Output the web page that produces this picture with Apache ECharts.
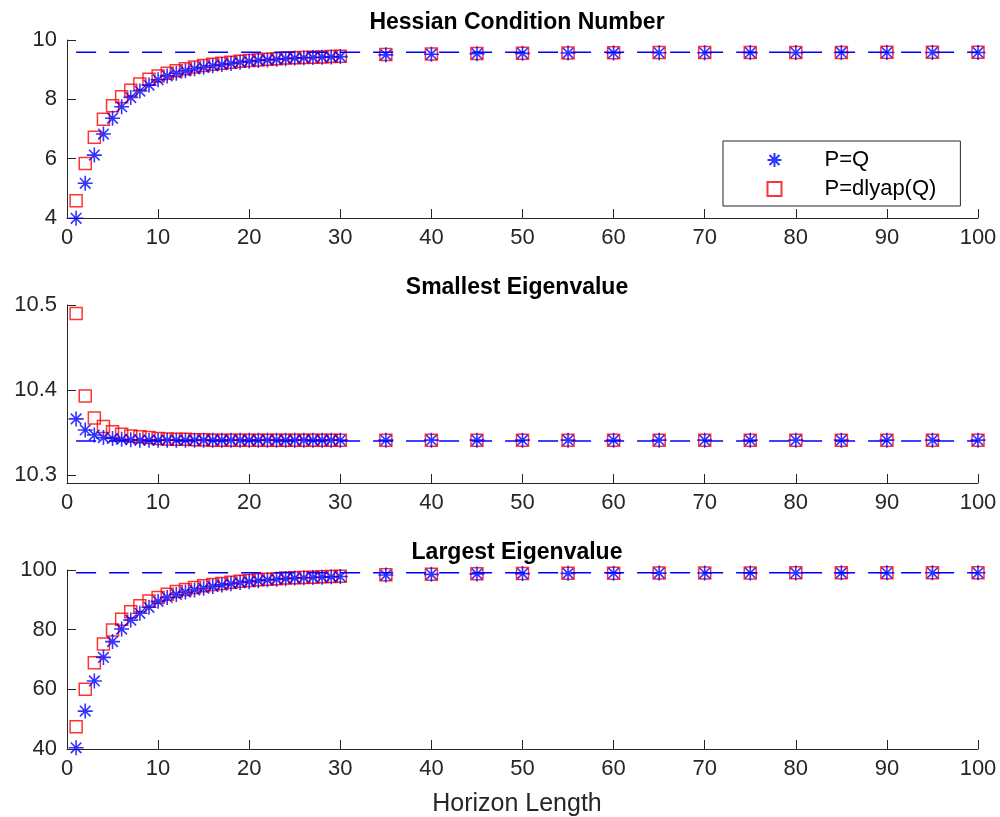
<!DOCTYPE html>
<html>
<head>
<meta charset="utf-8">
<script src="https://cdn.jsdelivr.net/npm/echarts@6/dist/echarts.min.js"></script>
<style>html,body{margin:0;padding:0;background:#fff}#c{width:1000px;height:817px}</style>
</head>
<body>
<div id="c"></div>
<script>
// Horizon lengths
const xVals = [1,2,3,4,5,6,7,8,9,10,11,12,13,14,15,16,17,18,19,20,21,22,23,24,25,26,27,28,29,30,35,40,45,50,55,60,65,70,75,80,85,90,95,100];
const xTicks = [0,10,20,30,40,50,60,70,80,90,100];

// Hessian condition number
const condQ = [3.99,5.17,6.12,6.83,7.36,7.75,8.06,8.28,8.48,8.66,8.79,8.88,8.96,9.03,9.08,9.13,9.17,9.21,9.25,9.28,9.31,9.33,9.35,9.37,9.39,9.40,9.41,9.42,9.43,9.44,9.50,9.52,9.54,9.55,9.56,9.565,9.57,9.57,9.575,9.575,9.58,9.58,9.58,9.58];
const condDly = [4.58,5.84,6.72,7.33,7.78,8.09,8.31,8.52,8.68,8.79,8.88,8.96,9.03,9.09,9.14,9.18,9.22,9.25,9.28,9.31,9.33,9.35,9.37,9.39,9.40,9.41,9.42,9.43,9.44,9.45,9.51,9.53,9.545,9.555,9.565,9.57,9.575,9.575,9.58,9.58,9.58,9.585,9.585,9.585];
const condLimit = 9.59;
const condTicks = [4,6,8,10];

// Smallest eigenvalue
const minQ = [10.366,10.353,10.347,10.344,10.343,10.342,10.3415,10.341,10.341,10.341,10.341,10.341,10.341,10.341,10.341,10.341,10.341,10.341,10.341,10.341,10.341,10.341,10.341,10.341,10.341,10.341,10.341,10.341,10.341,10.341,10.341,10.341,10.341,10.341,10.341,10.341,10.341,10.341,10.341,10.341,10.341,10.341,10.341,10.341];
const minDly = [10.490,10.393,10.367,10.357,10.351,10.348,10.346,10.345,10.344,10.343,10.3425,10.342,10.342,10.3415,10.3415,10.341,10.341,10.341,10.341,10.341,10.341,10.341,10.341,10.341,10.341,10.341,10.341,10.341,10.341,10.341,10.341,10.341,10.341,10.341,10.341,10.341,10.341,10.341,10.341,10.341,10.341,10.341,10.341,10.341];
const minLimit = 10.340;
const minTicks = [10.3,10.4,10.5];

// Largest eigenvalue
const maxQ = [40.4,52.7,62.8,70.7,76.0,80.2,83.2,85.5,87.5,89.5,90.8,91.8,92.6,93.3,93.9,94.5,95.0,95.4,95.8,96.1,96.4,96.7,96.9,97.1,97.3,97.4,97.5,97.6,97.7,97.8,98.3,98.55,98.7,98.8,98.87,98.92,98.96,98.99,99.01,99.03,99.04,99.05,99.06,99.06];
const maxDly = [47.5,60.0,68.9,75.2,79.9,83.5,86.0,88.0,89.6,90.8,91.9,92.8,93.5,94.1,94.7,95.1,95.5,95.9,96.2,96.5,96.7,96.9,97.1,97.3,97.4,97.5,97.6,97.7,97.8,97.9,98.4,98.6,98.75,98.85,98.9,98.95,98.98,99.0,99.02,99.04,99.05,99.06,99.07,99.07];
const maxLimit = 99.1;
const maxTicks = [40,60,80,100];

const titles = ['Hessian Condition Number','Smallest Eigenvalue','Largest Eigenvalue'];
const xLabel = 'Horizon Length';
const legendNames = ['P=Q','P=dlyap(Q)'];

const FONT = "'Liberation Sans', Arial, Helvetica, sans-serif";
const AX = '#262626';
const STAR = 'path://M0,-10L0,10M-10,0L10,0M-7.07,-7.07L7.07,7.07M-7.07,7.07L7.07,-7.07';

const grids = [
  {left:67, width:911, top:40, height:178},
  {left:67, width:911, top:305, height:178},
  {left:67, width:911, top:570, height:179}
];
const yRanges = [
  {min:4, max:10, ticks:condTicks, fmt:v=>String(v)},
  {min:10.2906, max:10.5, ticks:minTicks, fmt:v=>v.toFixed(1)},
  {min:40, max:100, ticks:maxTicks, fmt:v=>String(v)}
];
const sets = [[condQ,condDly,condLimit],[minQ,minDly,minLimit],[maxQ,maxDly,maxLimit]];

const xAxes = grids.map((g,i)=>({
  type:'value', gridIndex:i, min:0, max:100, interval:10,
  axisLine:{show:true, onZero:false, lineStyle:{color:AX,width:1}},
  axisTick:{show:true, inside:true, length:9, lineStyle:{color:AX}},
  axisLabel:{show:true, color:AX, fontSize:22, fontFamily:FONT, margin:9},
  splitLine:{show:false}
}));
const yAxes = yRanges.map((r,i)=>({
  type:'value', gridIndex:i, min:r.min, max:r.max,
  axisLine:{show:true, onZero:false, lineStyle:{color:AX,width:1}},
  axisTick:{show:true, inside:true, length:9, lineStyle:{color:AX}, customValues:r.ticks},
  axisLabel:{show:true, color:AX, fontSize:22, fontFamily:FONT, margin:10, customValues:r.ticks, formatter:r.fmt},
  splitLine:{show:false}
}));

const series = [];
sets.forEach((s,i)=>{
  series.push({
    name:legendNames[1], type:'scatter', xAxisIndex:i, yAxisIndex:i, z:2, clip:false,
    symbol:'rect', symbolSize:12,
    itemStyle:{color:'none', borderColor:'#ff0000', borderWidth:1.5},
    emphasis:{disabled:true},
    data:xVals.map((x,k)=>[x,s[1][k]])
  });
  series.push({
    name:legendNames[0], type:'scatter', xAxisIndex:i, yAxisIndex:i, z:3, clip:false,
    symbol:STAR, symbolSize:15,
    itemStyle:{color:'none', borderColor:'#0000ff', borderWidth:1.6},
    emphasis:{disabled:true},
    data:xVals.map((x,k)=>[x,s[0][k]])
  });
  series.push({
    name:'limit'+i, type:'line', xAxisIndex:i, yAxisIndex:i, z:4,
    symbol:'none', silent:true,
    lineStyle:{color:'#0000ff', width:1.5, type:[20,13]},
    data:[[xVals[0], s[2]],[xVals[xVals.length-1], s[2]]]
  });
});

const titleY = [20, 285, 550];

const chart = echarts.init(document.getElementById('c'), null, {renderer:'canvas'});
chart.setOption({
  animation:false,
  backgroundColor:'#fff',
  grid:grids,
  xAxis:xAxes,
  yAxis:yAxes,
  series:series,
  legend:{
    data:[{name:legendNames[0], icon:STAR},{name:legendNames[1], icon:'rect'}],
    orient:'vertical', left:723, top:141,
    itemWidth:14, itemHeight:14, itemGap:7,
    padding:[8,24,6,42],
    backgroundColor:'#fff', borderColor:AX, borderWidth:1,
    textStyle:{fontSize:22, fontFamily:FONT, color:'#000', padding:[0,0,0,38]},
    selectedMode:false
  },
  title: titles.map((t,i)=>({
    text:t, left:512, top:titleY[i]-14, textAlign:'center',
    textStyle:{fontSize:23, fontWeight:'bold', fontFamily:FONT, color:'#000'}
  })).concat([{
    text:xLabel, left:512, top:787, textAlign:'center',
    textStyle:{fontSize:25, fontWeight:'normal', fontFamily:FONT, color:AX}
  }])
});
</script>
</body>
</html>
